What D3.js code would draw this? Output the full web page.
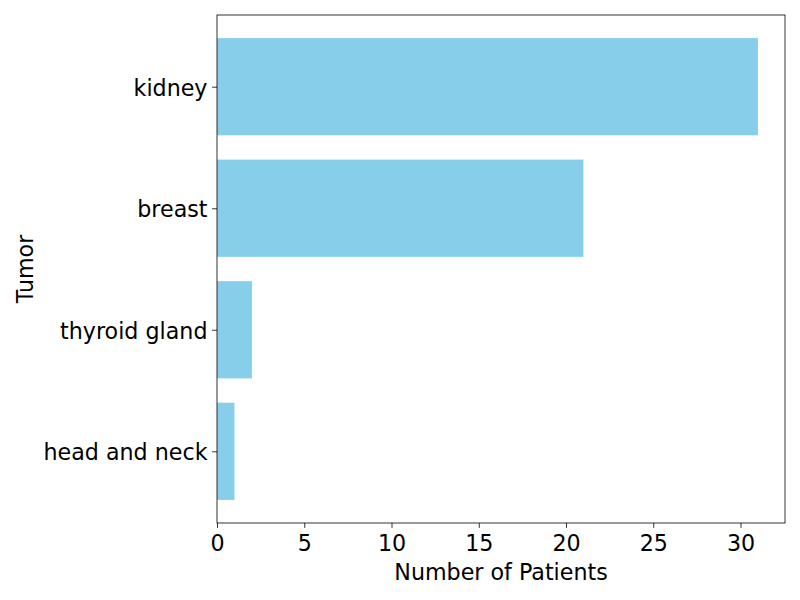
<!DOCTYPE html>
<html><head><meta charset="utf-8">
<script src="https://cdn.jsdelivr.net/npm/d3@7"></script>
<style>body{margin:0;background:#fff}</style>
</head><body>
<svg id="c" width="800" height="600"></svg>
<script>
const categories = ["kidney", "breast", "thyroid gland", "head and neck"];
const values = [31, 21, 2, 1];
const xTicks = [0, 5, 10, 15, 20, 25, 30];

const svg = d3.select("#c");
const L = 217, R = 785, T = 15, B = 523;
const font = "DejaVu Sans, sans-serif";
const fs = "22.2px";
const x = d3.scaleLinear().domain([0, 31 * 1.05]).range([L, R]);
const n = categories.length;
const y = d3.scaleLinear().domain([-0.4 - 0.19, (n - 1) + 0.4 + 0.19]).range([T, B]);
const bh = 0.8;

svg.append("rect").attr("x", 0).attr("y", 0).attr("width", 800).attr("height", 600).attr("fill", "#fff");

svg.selectAll("rect.bar").data(values).enter().append("rect")
  .attr("class", "bar")
  .attr("x", x(0))
  .attr("y", (d, i) => y(i - bh / 2))
  .attr("width", d => x(d) - x(0))
  .attr("height", y(bh) - y(0))
  .attr("fill", "#87CEEB");

const xAxis = svg.append("g").attr("transform", `translate(0,${B})`)
  .call(d3.axisBottom(x).tickValues(xTicks).tickSize(4.9).tickPadding(3.5).tickFormat(d3.format("d")));
xAxis.attr("font-size", null).attr("font-family", null);
xAxis.select(".domain").remove();
xAxis.selectAll("text").attr("font-family", font).style("font-size", fs).attr("fill", "#000")
  .attr("y", 28).attr("dy", null);
xAxis.selectAll("line").attr("stroke", "#000").attr("stroke-width", 0.8);

const yAxis = svg.append("g").attr("transform", `translate(${L},0)`)
  .call(d3.axisLeft(y).tickValues(d3.range(n)).tickSize(4.9).tickPadding(3.5).tickFormat(i => categories[i]));
yAxis.attr("font-size", null).attr("font-family", null);
yAxis.select(".domain").remove();
yAxis.selectAll("text").attr("font-family", font).style("font-size", fs).attr("fill", "#000")
  .attr("dy", null).attr("y", 8.5).attr("x", -9.5);
yAxis.selectAll("line").attr("stroke", "#000").attr("stroke-width", 0.8);

svg.append("rect").attr("x", L).attr("y", T).attr("width", R - L).attr("height", B - T)
  .attr("fill", "none").attr("stroke", "#000").attr("stroke-width", 0.8);

svg.append("text").attr("x", (L + R) / 2).attr("y", 580).attr("text-anchor", "middle")
  .attr("font-family", font).style("font-size", fs).text("Number of Patients");
svg.append("text").attr("transform", `translate(33,${(T + B) / 2}) rotate(-90)`).attr("text-anchor", "middle")
  .attr("font-family", font).style("font-size", fs).text("Tumor");
</script>
</body></html>
